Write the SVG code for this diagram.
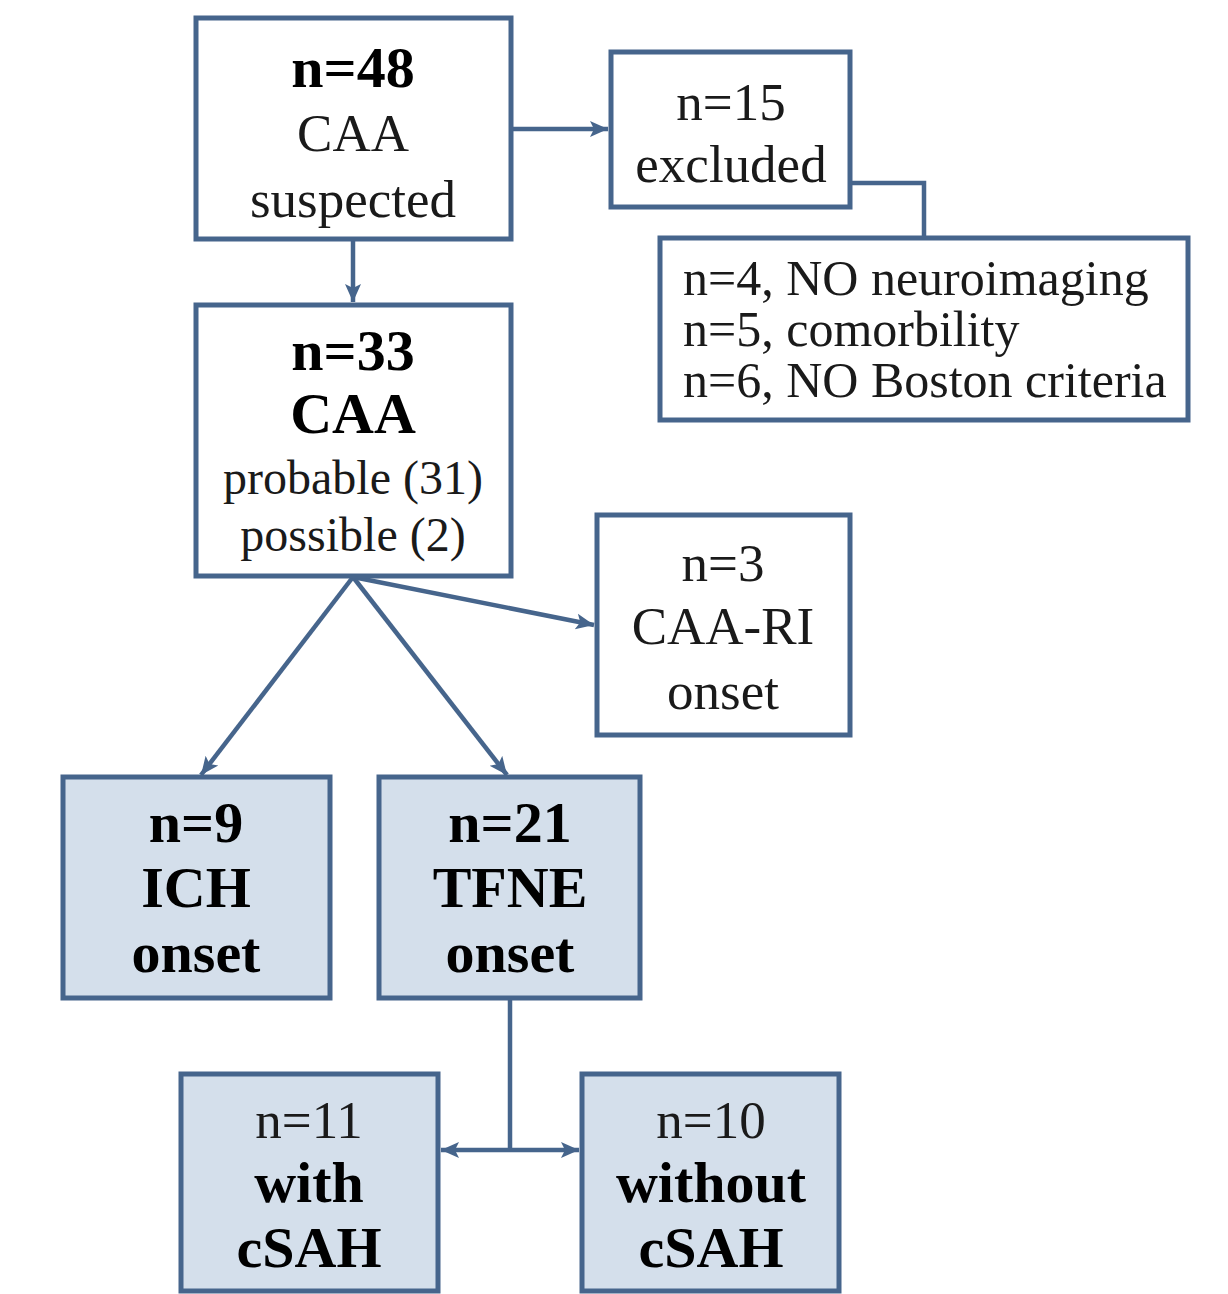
<svg xmlns="http://www.w3.org/2000/svg" width="1228" height="1294" viewBox="0 0 1228 1294">
<style>
.box{fill:#ffffff;stroke:#46658c;stroke-width:5}
.fill{fill:#d4dfeb;stroke:#46658c;stroke-width:5}
.con{fill:none;stroke:#46658c;stroke-width:4.5}
text{font-family:"Liberation Serif","DejaVu Serif",serif;fill:#1a1a1a;text-anchor:middle}
.n{font-size:53px}
.s{font-size:48px}
.b{font-size:58px;font-weight:bold;fill:#000}
.l{font-size:50px;text-anchor:start}
</style>
<defs>
<marker id="ah" markerUnits="userSpaceOnUse" markerWidth="22" markerHeight="20" refX="18" refY="9" orient="auto-start-reverse">
<path d="M0,1 L18,9 L0,17 L4,9 Z" fill="#46658c"/>
</marker>
</defs>
<g id="connectors">
<path class="con" d="M511,129 H608" marker-end="url(#ah)"/>
<path class="con" d="M353,239 V302" marker-end="url(#ah)"/>
<path class="con" d="M850,183 H924 V238"/>
<path class="con" d="M353,577 L201,775" marker-end="url(#ah)"/>
<path class="con" d="M353,577 L507,775" marker-end="url(#ah)"/>
<path class="con" d="M353,577 L594,625" marker-end="url(#ah)"/>
<path class="con" d="M510,998 V1150"/>
<path class="con" d="M510,1150 H441" marker-end="url(#ah)"/>
<path class="con" d="M510,1150 H579" marker-end="url(#ah)"/>
</g>
<g id="n48">
<rect class="box" x="196" y="18" width="315" height="221"/>
<text class="b" x="353" y="87">n=48</text>
<text class="n" x="353" y="151">CAA</text>
<text class="n" x="353" y="217">suspected</text>
</g>
<g id="n15">
<rect class="box" x="611" y="52" width="239" height="155"/>
<text class="n" x="731" y="120">n=15</text>
<text class="n" x="731" y="182">excluded</text>
</g>
<g id="reasons">
<rect class="box" x="660" y="238" width="528" height="182"/>
<text class="l" x="683" y="295">n=4, NO neuroimaging</text>
<text class="l" x="683" y="346">n=5, comorbility</text>
<text class="l" x="683" y="397">n=6, NO Boston criteria</text>
</g>
<g id="n33">
<rect class="box" x="196" y="305" width="315" height="271"/>
<text class="b" x="353" y="370">n=33</text>
<text class="b" x="353" y="433">CAA</text>
<text class="s" x="353" y="494">probable (31)</text>
<text class="s" x="353" y="551">possible (2)</text>
</g>
<g id="n3">
<rect class="box" x="597" y="515" width="253" height="220"/>
<text class="n" x="723" y="581">n=3</text>
<text class="n" x="723" y="644">CAA-RI</text>
<text class="n" x="723" y="709">onset</text>
</g>
<g id="n9">
<rect class="fill" x="63" y="777" width="267" height="221"/>
<text class="b" x="196" y="842">n=9</text>
<text class="b" x="196" y="907">ICH</text>
<text class="b" x="196" y="972">onset</text>
</g>
<g id="n21">
<rect class="fill" x="379" y="777" width="261" height="221"/>
<text class="b" x="510" y="842">n=21</text>
<text class="b" x="510" y="907">TFNE</text>
<text class="b" x="510" y="972">onset</text>
</g>
<g id="n11">
<rect class="fill" x="181" y="1074" width="257" height="217"/>
<text class="n" x="309" y="1138">n=11</text>
<text class="b" x="309" y="1202">with</text>
<text class="b" x="309" y="1267">cSAH</text>
</g>
<g id="n10">
<rect class="fill" x="582" y="1074" width="257" height="217"/>
<text class="n" x="711" y="1138">n=10</text>
<text class="b" x="711" y="1202">without</text>
<text class="b" x="711" y="1267">cSAH</text>
</g>
</svg>
